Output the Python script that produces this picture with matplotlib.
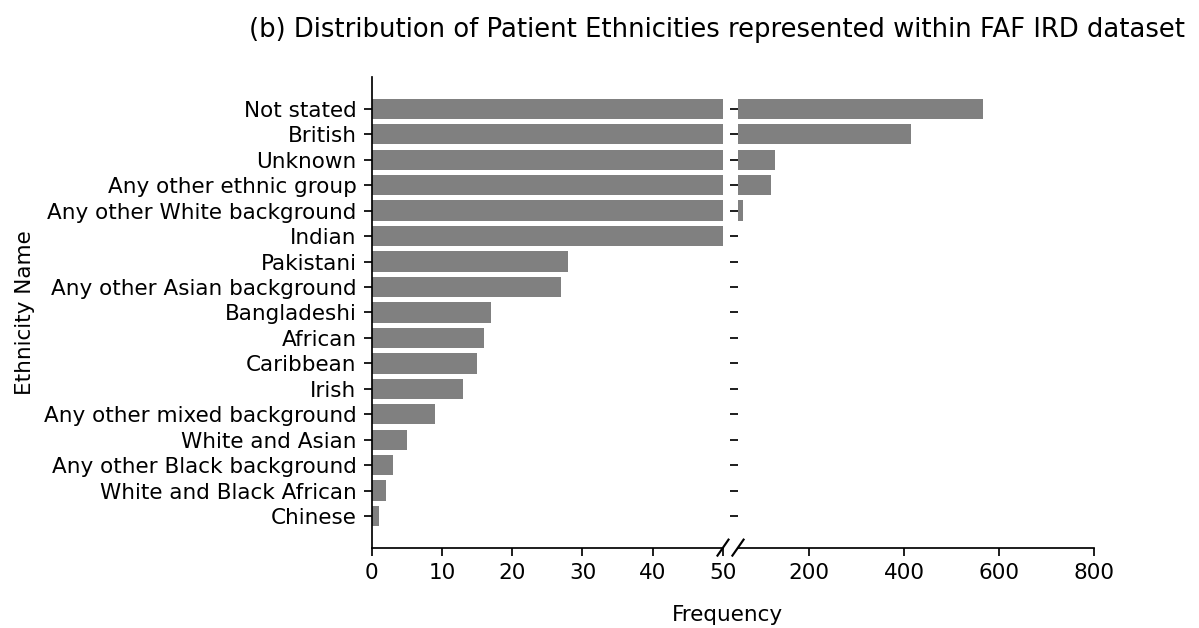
import matplotlib.pyplot as plt

ethnicities = ['Not stated', 'British', 'Unknown', 'Any other ethnic group',
               'Any other White background', 'Indian', 'Pakistani',
               'Any other Asian background', 'Bangladeshi', 'African',
               'Caribbean', 'Irish', 'Any other mixed background',
               'White and Asian', 'Any other Black background',
               'White and Black African', 'Chinese']
counts = [565, 415, 128, 120, 60, 50, 28, 27, 17, 16, 15, 13, 9, 5, 3, 2, 1]

dpi = 155
fig = plt.figure(figsize=(1199 / dpi, 628 / dpi), dpi=dpi)
ax1 = fig.add_axes([0.310, 0.128, 0.293, 0.749])
ax2 = fig.add_axes([0.6155, 0.128, 0.297, 0.749], sharey=ax1)

for ax in (ax1, ax2):
    ax.barh(ethnicities, counts, color='gray', height=0.8)
    ax.spines['top'].set_visible(False)
    ax.spines['right'].set_visible(False)
    ax.tick_params(labelsize=10)

ax1.invert_yaxis()
ax1.set_xlim(0, 50)
ax2.set_xlim(50, 800)
ax2.set_xticks([200, 400, 600, 800])
ax2.spines['left'].set_visible(False)
ax2.tick_params(axis='y', labelleft=False)

ax1.set_ylabel('Ethnicity Name', fontsize=10)

# break marks
dx, dy = 0.0157, 0.017
kw = dict(color='k', clip_on=False, lw=1.0)
ax1.plot((1 - dx, 1 + dx), (-dy, dy), transform=ax1.transAxes, **kw)
ax2.plot((-dx, dx), (-dy, dy), transform=ax2.transAxes, **kw)

fig.text(0.598, 0.952, '(b) Distribution of Patient Ethnicities represented within FAF IRD dataset',
         ha='center', va='center', fontsize=12)
fig.text(0.607, 0.021, 'Frequency', ha='center', va='center', fontsize=10)

fig.savefig('out.png', dpi=dpi)
